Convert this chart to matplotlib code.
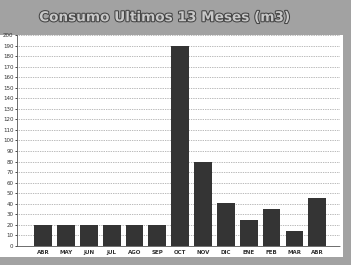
import matplotlib
matplotlib.use("Agg")
import matplotlib.pyplot as plt
import matplotlib.patheffects as pe
from matplotlib.patches import Rectangle

# Data
meses = ['ABR', 'MAY', 'JUN', 'JUL', 'AGO', 'SEP', 'OCT',
         'NOV', 'DIC', 'ENE', 'FEB', 'MAR', 'ABR']
consumo = [20, 20, 20, 20, 20, 20, 190, 80, 41, 25, 35, 14, 45]
yticks = list(range(0, 201, 10))

fig = plt.figure(figsize=(3.51, 2.65), dpi=100)
fig.patch.set_facecolor('#a2a2a2')

# white panel behind the plot
fig.patches.append(Rectangle((0, 0.030), 0.977, 0.838, transform=fig.transFigure,
                             facecolor='white', edgecolor='none', zorder=-5))

ax = fig.add_axes([0.048, 0.072, 0.921, 0.796])
ax.set_zorder(2)
ax.set_facecolor('white')

x = range(len(meses))
ax.bar(x, consumo, width=0.78, color='#343434', zorder=3)

ax.set_xlim(-1.15, 13.0)
ax.set_ylim(0, 200)
ax.set_yticks(yticks)
ax.set_yticklabels([str(t) for t in yticks], fontsize=4, color='#333333')
ax.set_xticks(list(x))
ax.set_xticklabels(meses, fontsize=4, color='#333333', fontweight='bold')
ax.tick_params(axis='y', length=1.5, width=0.5, pad=1)
ax.tick_params(axis='x', length=0, pad=3)

ax.yaxis.grid(True, linestyle=(0, (1, 1.5)), linewidth=0.5, color='#777777', zorder=1)
for side in ['left', 'bottom']:
    ax.spines[side].set_linestyle((0, (1, 1)))
    ax.spines[side].set_linewidth(0.6)
    ax.spines[side].set_color('#555555')
for side in ['top', 'right']:
    ax.spines[side].set_visible(False)

fig.text(0.47, 0.935, 'Consumo Ultimos 13 Meses (m3)', ha='center', va='center',
         fontsize=9.8, fontweight='bold', color='#c8c8c8',
         path_effects=[pe.withStroke(linewidth=1.5, foreground='#444444')])

fig.savefig('out.png', dpi=100, facecolor=fig.get_facecolor())
